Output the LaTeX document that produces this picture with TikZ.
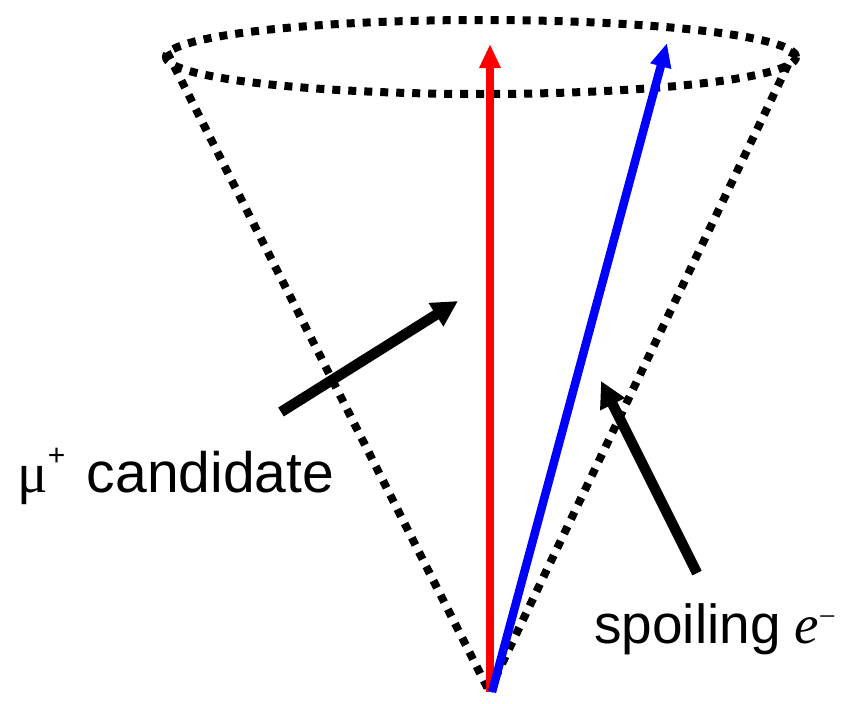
\documentclass[tikz,border=0pt]{standalone}
\usepackage{fontspec}
\setmainfont{Liberation Sans}
\newfontfamily\seriff{Liberation Serif}
\usetikzlibrary{arrows.meta}
\tikzset{
  conedot/.style={line width=8pt, dash pattern=on 8pt off 8pt},
  redarr/.style={draw={rgb,255:red,255;green,0;blue,0}, line width=8.5pt, -{Triangle[length=24pt,width=20pt]}},
  bluearr/.style={draw={rgb,255:red,0;green,0;blue,255}, line width=8.5pt, -{Triangle[length=24pt,width=20pt]}},
  pointarr/.style={draw=black, line width=10.5pt, -{Triangle[length=26pt,width=26pt]}},
  lbl/.style={inner sep=0pt, anchor=base west, font=\fontsize{57}{62}\selectfont}
}
\begin{document}
\begin{tikzpicture}[x=1pt,y=-1pt]
\useasboundingbox (0,0) rectangle (841,704);
\coordinate (apex) at (489,691);
\coordinate (lefttop) at (167,52);
\coordinate (righttop) at (795,50);
\coordinate (ecenter) at (481,57);
\coordinate (redtail) at (490,692);
\coordinate (redtip) at (490,44);
\coordinate (bluetail) at (492,692);
\coordinate (bluetip) at (667,43);
\coordinate (mutail) at (281,412);
\coordinate (mutip) at (458,301);
\coordinate (etail) at (697,573);
\coordinate (etip) at (601,381);
% cone
\draw[conedot] (ecenter) ellipse [x radius=315pt, y radius=37pt];
\draw[conedot] (lefttop) -- (apex);
\draw[conedot] (righttop) -- (apex);
% momentum arrows
\draw[redarr] (redtail) -- (redtip);
\draw[bluearr] (bluetail) -- (bluetip);
% pointer arrows
\draw[pointarr] (mutail) -- (mutip);
\draw[pointarr] (etail) -- (etip);
% labels
\node[lbl] (mulabel) at (17,492) {{\seriff μ}\raisebox{27pt}{\fontsize{30}{30}\selectfont +}\hspace{0.38em}candidate};
\node[lbl, font=\fontsize{55}{60}\selectfont] (elabel) at (594,643) {spoiling\hspace{0.25em}{\seriff\itshape e}\raisebox{17pt}{\seriff\fontsize{30}{30}\selectfont −}};
\end{tikzpicture}
\end{document}
